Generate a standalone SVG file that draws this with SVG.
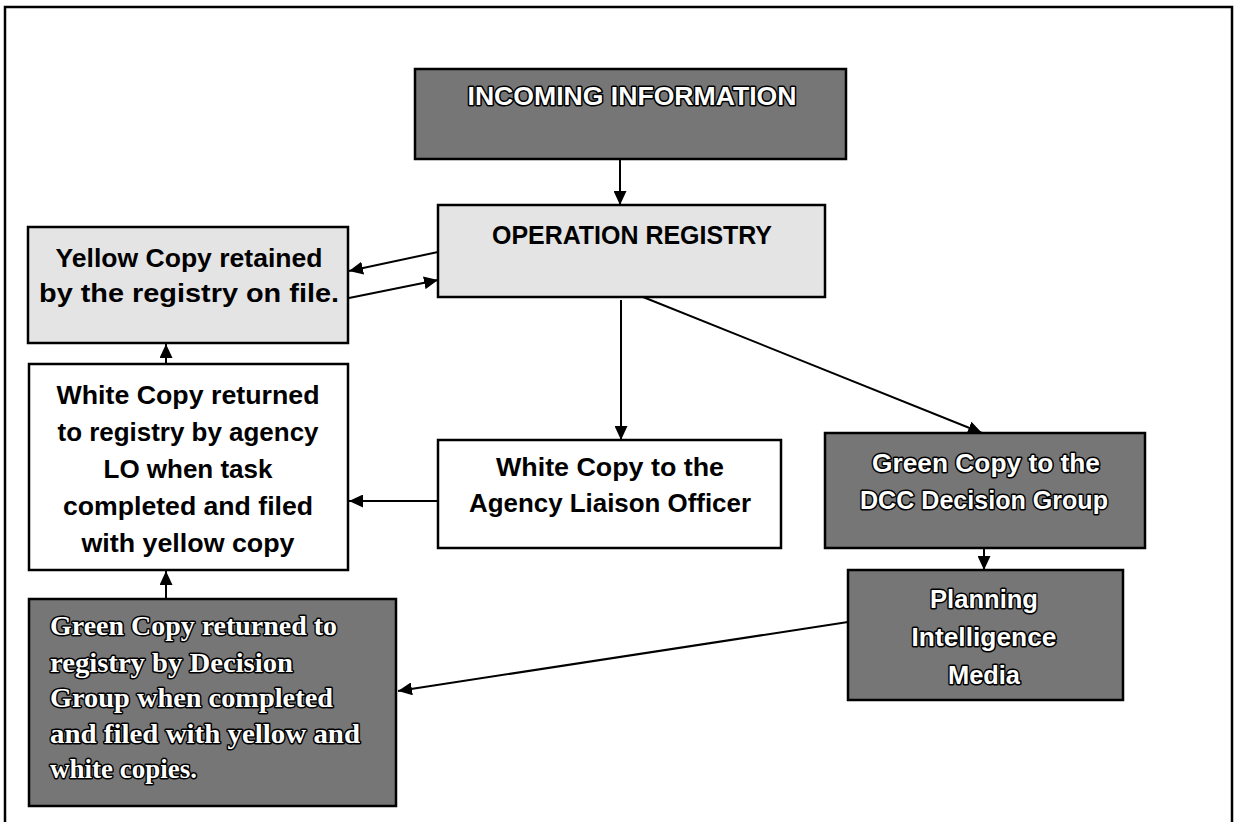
<svg xmlns="http://www.w3.org/2000/svg" width="1235" height="822" viewBox="0 0 1235 822">
<defs>
<style>
.box{stroke:#000;stroke-width:2.5}
.dark{fill:#767676}
.light{fill:#e4e4e4}
.white{fill:#fff}
.t{font-family:"Liberation Sans",Arial,sans-serif;font-weight:bold;font-size:26px;text-anchor:middle}
.tb{fill:#000}
.tw{fill:#fff;stroke:#000;stroke-width:3;paint-order:stroke;stroke-linejoin:round}
.ts{font-family:"Liberation Serif","Times New Roman",serif;font-size:28px;font-weight:bold;fill:#fff;stroke:#000;stroke-width:3;paint-order:stroke;stroke-linejoin:round}
.c{stroke:#000;stroke-width:2;fill:none;marker-end:url(#ah)}
</style>
<marker id="ah" markerUnits="userSpaceOnUse" markerWidth="15" markerHeight="13" refX="14" refY="6.5" orient="auto">
<path d="M0,0 L14,6.5 L0,13 z" fill="#000"/>
</marker>
</defs>
<rect width="1235" height="822" fill="#fff"/>
<path d="M5,822 V7 H1232 V822" fill="none" stroke="#000" stroke-width="2.5"/>

<g id="connectors">
<line class="c" x1="620" y1="159" x2="620" y2="205"/>
<line class="c" x1="438" y1="252" x2="349" y2="271"/>
<line class="c" x1="349" y1="298" x2="438" y2="280"/>
<line class="c" x1="621" y1="300" x2="621" y2="440"/>
<line class="c" x1="643" y1="297" x2="982" y2="433"/>
<line class="c" x1="438" y1="501" x2="349" y2="501"/>
<line class="c" x1="166" y1="364" x2="166" y2="344"/>
<line class="c" x1="166" y1="599" x2="166" y2="571"/>
<line class="c" x1="984" y1="548" x2="984" y2="570"/>
<line class="c" x1="848" y1="622" x2="398" y2="691"/>
</g>

<g id="incoming">
<rect class="box dark" x="415" y="69" width="431" height="90"/>
<text class="t tw" x="632" y="105" textLength="329" lengthAdjust="spacingAndGlyphs">INCOMING INFORMATION</text>
</g>

<g id="registry">
<rect class="box light" x="438" y="205" width="387" height="92"/>
<text class="t tb" x="632" y="244" textLength="280" lengthAdjust="spacingAndGlyphs">OPERATION REGISTRY</text>
</g>

<g id="yellow">
<rect class="box light" x="28" y="227" width="320" height="116"/>
<text class="t tb" x="189" y="267" textLength="267" lengthAdjust="spacingAndGlyphs">Yellow Copy retained</text>
<text class="t tb" x="189" y="302" textLength="300" lengthAdjust="spacingAndGlyphs">by the registry on file.</text>
</g>

<g id="white-returned">
<rect class="box white" x="29" y="364" width="319" height="206"/>
<text class="t tb" x="188" y="404" textLength="263" lengthAdjust="spacingAndGlyphs">White Copy returned</text>
<text class="t tb" x="188" y="441" textLength="261" lengthAdjust="spacingAndGlyphs">to registry by agency</text>
<text class="t tb" x="188" y="478" textLength="169" lengthAdjust="spacingAndGlyphs">LO when task</text>
<text class="t tb" x="188" y="515" textLength="250" lengthAdjust="spacingAndGlyphs">completed and filed</text>
<text class="t tb" x="188" y="552" textLength="213" lengthAdjust="spacingAndGlyphs">with yellow copy</text>
</g>

<g id="white-agency">
<rect class="box white" x="438" y="440" width="343" height="108"/>
<text class="t tb" x="610" y="476" textLength="228" lengthAdjust="spacingAndGlyphs">White Copy to the</text>
<text class="t tb" x="610" y="512" textLength="282" lengthAdjust="spacingAndGlyphs">Agency Liaison Officer</text>
</g>

<g id="green-dcc">
<rect class="box dark" x="825" y="433" width="320" height="115"/>
<text class="t tw" x="986" y="472" textLength="228" lengthAdjust="spacingAndGlyphs">Green Copy to the</text>
<text class="t tw" x="984" y="509" textLength="248" lengthAdjust="spacingAndGlyphs">DCC Decision Group</text>
</g>

<g id="planning">
<rect class="box dark" x="848" y="570" width="275" height="130"/>
<text class="t tw" x="984" y="608" textLength="108" lengthAdjust="spacingAndGlyphs">Planning</text>
<text class="t tw" x="984" y="646" textLength="145" lengthAdjust="spacingAndGlyphs">Intelligence</text>
<text class="t tw" x="984" y="684" textLength="72" lengthAdjust="spacingAndGlyphs">Media</text>
</g>

<g id="green-returned">
<rect class="box dark" x="29" y="599" width="367" height="207"/>
<text class="ts" x="50" y="635" textLength="287" lengthAdjust="spacingAndGlyphs">Green Copy returned to</text>
<text class="ts" x="50" y="672" textLength="243" lengthAdjust="spacingAndGlyphs">registry by Decision</text>
<text class="ts" x="50" y="707" textLength="283" lengthAdjust="spacingAndGlyphs">Group when completed</text>
<text class="ts" x="50" y="743" textLength="310" lengthAdjust="spacingAndGlyphs">and filed with yellow and</text>
<text class="ts" x="50" y="778" textLength="147" lengthAdjust="spacingAndGlyphs">white copies.</text>
</g>
</svg>
